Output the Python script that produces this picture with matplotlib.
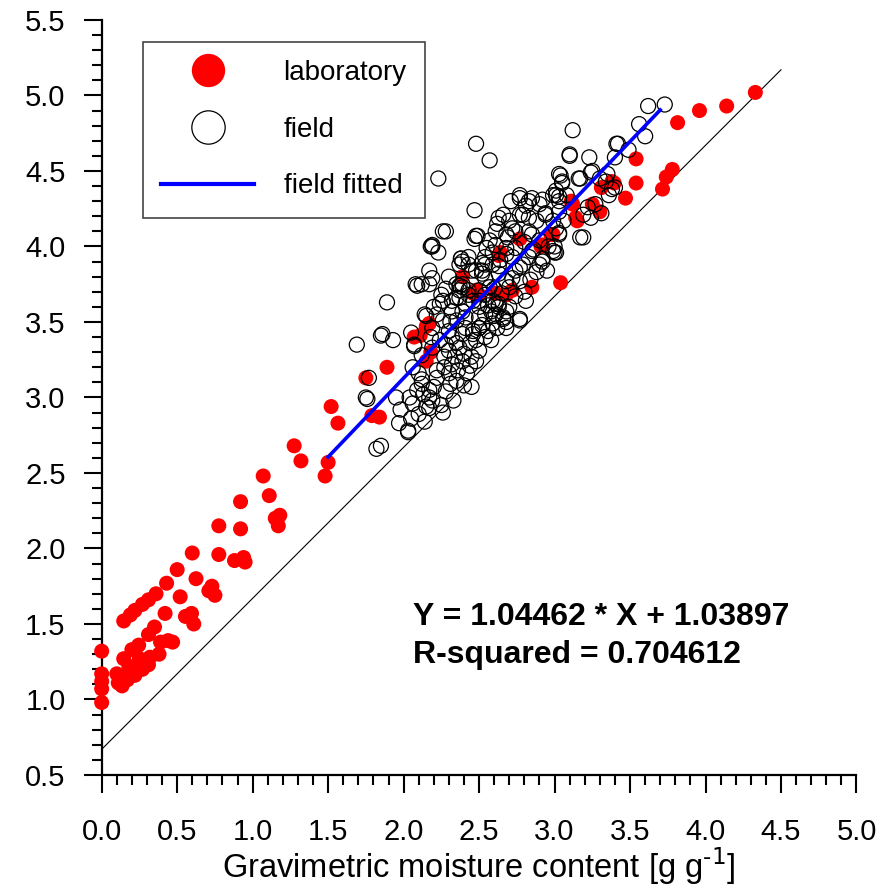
import matplotlib.pyplot as plt
from matplotlib.lines import Line2D
from matplotlib.ticker import MultipleLocator
import numpy as np

plt.rcParams['font.family'] = ['Liberation Sans', 'DejaVu Sans']
plt.rcParams['mathtext.default'] = 'regular'

# laboratory measurements (red dots)
lab_x = [0, 0, 0, 0, 0,
         0.146, 0.19, 0.22, 0.27, 0.31, 0.36,
         0.42, 0.43, 0.50, 0.52, 0.555, 0.595, 0.61, 0.60, 0.625, 0.71, 0.73, 0.75,
         0.776, 0.776, 0.88, 0.94, 0.95, 0.92, 0.92, 1.07, 1.11, 1.18, 1.15, 1.17,
         1.275, 1.32, 1.52, 1.565, 1.50, 1.48,
         0.35, 0.31, 0.39, 0.44, 0.47, 0.245, 0.20,
         0.38, 0.32, 0.28, 0.23, 0.19, 0.146, 0.10, 0.135, 0.146, 0.18, 0.22, 0.27,
         0.31, 0.17, 0.11, 0.25,
         1.89, 1.75, 1.79, 1.84, 2.07, 2.15,
         3.12, 3.14, 2.975, 2.91, 2.77, 2.64, 2.63, 2.39, 3.04, 2.85, 2.72, 2.68,
         2.46, 2.50, 2.17, 2.11,
         3.25, 3.30, 3.38, 3.47, 3.31, 2.92, 2.48, 2.61,
         4.33, 4.14, 3.96, 3.815, 3.54, 3.54, 3.78, 3.74, 3.715, 3.395, 3.15, 3.11, 2.99,
         2.18, 2.15]
lab_y = [1.32, 1.17, 1.12, 1.07, 0.98,
         1.52, 1.56, 1.59, 1.63, 1.66, 1.70,
         1.57, 1.77, 1.86, 1.68, 1.55, 1.57, 1.50, 1.97, 1.80, 1.72, 1.75, 1.69,
         2.15, 1.96, 1.92, 1.94, 1.91, 2.13, 2.31, 2.48, 2.35, 2.22, 2.20, 2.15,
         2.68, 2.58, 2.94, 2.83, 2.57, 2.48,
         1.48, 1.43, 1.38, 1.39, 1.38, 1.36, 1.33,
         1.30, 1.28, 1.24, 1.21, 1.18, 1.15, 1.17, 1.09, 1.27, 1.22, 1.16, 1.20,
         1.23, 1.13, 1.11, 1.27,
         3.20, 3.13, 2.88, 2.87, 3.40, 3.47,
         4.28, 4.19, 4.08, 4.00, 4.05, 3.96, 3.94, 3.80, 3.76, 3.73, 3.71, 3.68,
         3.69, 3.68, 3.49, 3.41,
         4.28, 4.23, 4.43, 4.32, 4.39, 4.01, 3.71, 3.69,
         5.02, 4.93, 4.90, 4.82, 4.58, 4.42, 4.51, 4.46, 4.38, 4.42, 4.17, 4.30, 4.08,
         3.30, 3.24]

# field measurements (open circles)
field_x = [2.48, 2.23, 2.47, 2.28, 2.19, 2.23, 2.47, 2.38, 2.19, 2.17, 2.09, 1.89,
           3.12, 2.57, 3.10, 3.23, 3.41, 3.03, 3.05, 3.16, 3.25, 3.34, 3.38,
           2.77, 2.85, 2.92, 2.99, 3.03, 2.71, 2.81, 2.66, 2.79, 2.94, 2.88, 2.99,
           2.62, 2.72, 2.83, 2.48, 3.03, 3.19, 2.69, 2.19, 2.61, 2.74, 2.85, 2.99,
           2.59, 2.68, 2.39, 2.52, 2.63, 2.77, 2.92, 2.45, 2.52, 2.72, 2.81, 2.08,
           2.37, 2.43, 2.57, 2.26, 2.35, 2.50, 2.61, 2.68, 2.77, 2.39, 2.22, 2.50,
           2.31, 1.93, 1.85, 2.07, 2.15, 2.24, 2.06, 2.10, 2.12, 2.04, 2.06, 1.97,
           2.03, 1.85, 2.17, 2.15, 2.25, 2.31, 2.35, 2.45, 2.27, 2.32, 2.39, 2.45,
           2.50, 2.48, 2.37, 2.30, 2.28, 2.19, 2.39, 2.46, 2.50, 2.52, 2.41, 2.35,
           2.54, 2.58, 2.61, 2.63, 2.77, 2.68, 2.66, 2.43, 2.50, 2.37, 2.39, 2.32,
           2.48, 2.54, 2.37, 2.43, 2.40, 2.22, 2.17, 2.10, 2.19, 1.95, 1.69, 1.86,
           1.77, 1.75, 1.76, 1.82, 2.03, 2.05, 2.07, 2.14, 2.26, 2.18, 2.49, 2.77,
           2.83, 3.01, 3.08, 2.90, 2.94, 3.03, 2.63, 2.70, 2.77, 2.83, 2.61, 2.68,
           2.74, 2.85, 2.96, 3.01, 2.90, 2.83, 2.92, 2.68, 2.72, 2.79, 2.54, 2.59,
           2.52, 2.38, 2.43, 2.54, 2.63, 2.68, 2.74, 2.77, 2.17, 2.12, 2.35, 2.39,
           2.37, 2.41, 2.32, 2.46, 2.50, 2.59, 2.63, 2.70, 2.54, 2.59, 2.50, 2.66,
           2.68, 2.26, 2.19, 2.30, 2.41, 2.46, 3.62, 3.73, 3.56, 3.60, 3.42, 3.49,
           3.10, 3.40, 3.04, 3.05, 3.17, 3.24, 3.30, 3.35, 3.40, 3.36, 3.27, 3.22,
           3.01, 3.03, 3.19, 3.24, 3.31, 3.06, 3.01, 3.17, 3.03, 3.00, 3.00,
           2.13, 2.20, 2.28, 2.33, 2.26, 2.17, 2.12, 2.22, 2.30, 2.36, 2.42, 2.44,
           2.40, 2.34, 2.27, 2.24, 2.32, 2.35, 2.44, 2.48, 2.56, 2.58, 2.62, 2.60,
           2.56, 2.54, 2.60, 2.65, 2.70, 2.74, 2.80, 2.84, 2.88, 2.95, 2.86, 2.90,
           2.80, 2.57, 2.55, 2.64, 2.30, 2.28, 2.25, 2.20, 2.18, 2.12, 2.09, 1.98,
           2.05, 2.14]
field_y = [4.68, 4.45, 4.24, 4.10, 4.00, 3.96, 4.05, 3.92, 3.79, 3.75, 3.74, 3.63,
           4.77, 4.57, 4.60, 4.59, 4.68, 4.48, 4.43, 4.45, 4.50, 4.43, 4.38,
           4.34, 4.32, 4.31, 4.34, 4.33, 4.30, 4.27, 4.21, 4.21, 4.22, 4.17, 4.17,
           4.15, 4.12, 4.10, 4.07, 4.09, 4.06, 4.06, 4.01, 4.01, 3.99, 3.97, 3.97,
           3.96, 3.95, 3.90, 3.89, 3.87, 3.86, 3.92, 3.84, 3.82, 3.79, 3.64, 3.75,
           3.74, 3.71, 3.73, 3.64, 3.66, 3.64, 3.62, 3.57, 3.51, 3.57, 3.55, 3.53,
           3.50, 3.38, 3.41, 3.34, 3.54, 3.62, 3.20, 3.16, 3.09, 3.00, 2.96, 2.83,
           2.78, 2.68, 3.00, 2.94, 2.95, 3.09, 3.11, 3.07, 3.20, 3.22, 3.24, 3.27,
           3.31, 3.24, 3.33, 3.31, 3.35, 3.33, 3.42, 3.44, 3.46, 3.48, 3.53, 3.51,
           3.40, 3.57, 3.55, 3.60, 3.52, 3.50, 3.52, 3.68, 3.71, 3.71, 3.75, 3.64,
           3.84, 3.88, 3.88, 3.93, 3.08, 3.13, 3.05, 2.89, 2.98, 3.00, 3.35, 3.42,
           3.13, 3.00, 2.99, 2.66, 2.77, 3.43, 3.35, 3.55, 4.10, 4.00, 4.07, 4.32,
           4.30, 4.37, 4.34, 4.28, 4.21, 4.23, 4.19, 4.17, 4.21, 4.19, 4.10, 4.08,
           4.10, 4.08, 4.00, 3.96, 3.88, 3.93, 3.90, 3.99, 3.93, 3.88, 3.93, 3.88,
           3.84, 3.92, 3.88, 3.79, 3.82, 3.77, 3.84, 3.77, 3.84, 3.75, 3.75, 3.73,
           3.66, 3.62, 3.57, 3.64, 3.60, 3.64, 3.62, 3.60, 3.55, 3.49, 3.46, 3.53,
           3.46, 3.51, 3.46, 3.44, 3.46, 3.42, 4.93, 4.94, 4.81, 4.73, 4.68, 4.64,
           4.61, 4.59, 4.47, 4.42, 4.45, 4.49, 4.45, 4.48, 4.39, 4.34, 4.28, 4.26,
           4.34, 4.30, 4.21, 4.19, 4.22, 4.17, 4.12, 4.06, 4.08, 4.00, 3.96,
           3.02, 3.07, 3.04, 2.98, 2.90, 2.93, 3.12, 3.18, 3.16, 3.18, 3.16, 3.21,
           3.29, 3.27, 3.27, 3.38, 3.40, 3.36, 3.36, 3.38, 3.44, 3.38, 3.46, 3.54,
           3.61, 3.68, 3.72, 3.69, 3.73, 3.67, 3.70, 3.78, 3.83, 3.84, 3.98, 4.04,
           4.03, 4.04, 3.99, 3.91, 3.80, 3.72, 3.68, 3.60, 3.40, 3.28, 3.05, 2.92,
           2.86, 2.84]

# fitted line for field data and reference line
fit_slope, fit_icpt = 1.04462, 1.03897
fit_range = [1.5, 3.7]
ref_range = [0.0, 4.5]
ref_icpt = 0.67

fig = plt.figure(figsize=(8.88, 8.91), dpi=100)
ax = fig.add_axes([0.1145, 0.1302, 0.850, 0.8474])

ax.plot(ref_range, [v + ref_icpt for v in ref_range], color='black', lw=0.8, zorder=2)
ax.scatter(lab_x, lab_y, s=117, color='#ff0000', edgecolors='none', zorder=3, clip_on=False)
ax.scatter(field_x, field_y, s=117, facecolors='none', edgecolors='black', linewidths=0.9,
           zorder=4, clip_on=False)
fx = np.array(fit_range)
ax.plot(fx, fit_slope * fx + fit_icpt, color='#0000ff', lw=2.6, zorder=5)

ax.set_xlim(0, 5)
ax.set_ylim(0.5, 5.5)
ax.xaxis.set_major_locator(MultipleLocator(0.5))
ax.xaxis.set_minor_locator(MultipleLocator(0.1))
ax.yaxis.set_major_locator(MultipleLocator(0.5))
ax.yaxis.set_minor_locator(MultipleLocator(0.1))
ax.xaxis.set_major_formatter(lambda v, p: f'{v:.1f}')
ax.yaxis.set_major_formatter(lambda v, p: f'{v:.1f}')

for s in ['top', 'right']:
    ax.spines[s].set_visible(False)
for s in ['left', 'bottom']:
    ax.spines[s].set_linewidth(1.6)
ax.tick_params(which='major', length=13, width=1.5, labelsize=21)
ax.tick_params(which='minor', length=7, width=1.5)
ax.tick_params(axis='x', which='major', pad=18)
ax.tick_params(axis='y', which='major', pad=13)

ax.set_xlabel(r'Gravimetric moisture content [g g$^{\text{-1}}$]', fontsize=23.5, labelpad=0)

ax.text(2.06, 1.546, 'Y = 1.04462 * X + 1.03897', fontsize=23, fontweight='bold',
        ha='left', va='center')
ax.text(2.06, 1.295, 'R-squared = 0.704612', fontsize=23, fontweight='bold',
        ha='left', va='center')

handles = [
    Line2D([], [], marker='o', ls='none', color='#ff0000', markersize=24, mec='none'),
    Line2D([], [], marker='o', ls='none', mfc='none', mec='black', markersize=24, mew=0.9),
    Line2D([], [], color='#0000ff', lw=3),
]
leg = ax.legend(handles, ['laboratory', 'field', 'field fitted'], loc='upper left',
                bbox_to_anchor=(0.0547, 0.971), borderaxespad=0, fontsize=20,
                fancybox=False, framealpha=1, edgecolor='#444444',
                handlelength=3.35, handletextpad=1.05, labelspacing=1.1,
                borderpad=0.66)
leg.get_frame().set_linewidth(1.2)

plt.savefig('out.png', dpi=100)
